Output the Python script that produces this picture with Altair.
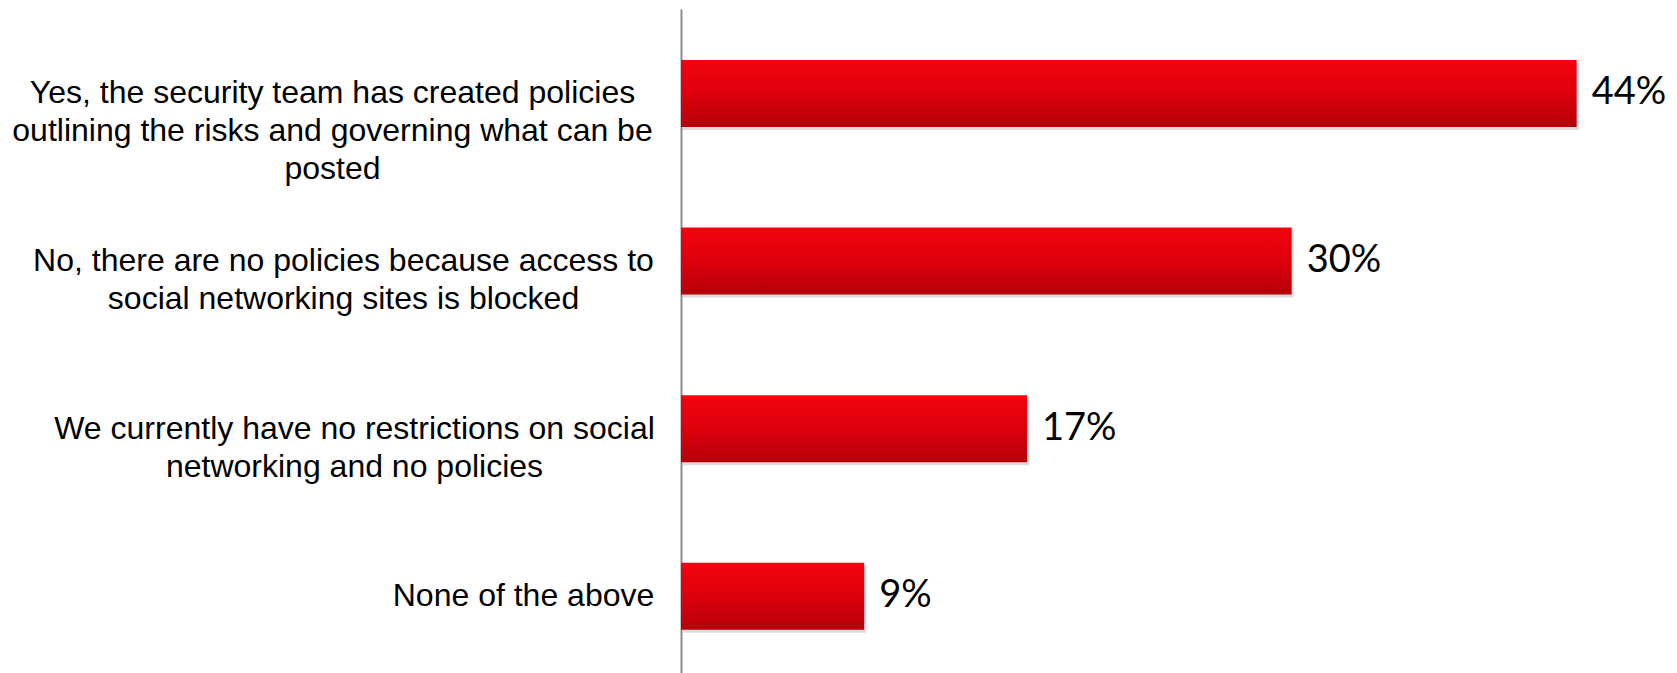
import altair as alt
import pandas as pd

categories = [
    "Yes, the security team has created policies\noutlining the risks and governing what can be\nposted",
    "No, there are no policies because access to\nsocial networking sites is blocked",
    "We currently have no restrictions on social\nnetworking and no policies",
    "None of the above",
]
values = [44, 30, 17, 9]

df = pd.DataFrame({"category": categories, "value": values})

label_pad = [349, 338, 327, 158]
pad_cond = [
    {"test": f"datum.value == {repr(c)}", "value": p}
    for c, p in zip(categories[:-1], label_pad[:-1])
]

y_enc = alt.Y(
    "category:N",
    sort=categories,
    title=None,
    scale=alt.Scale(paddingInner=0.6, paddingOuter=0.281, align=0.541),
    axis=alt.Axis(
        labelExpr="split(datum.label, '\\n')",
        labelFont="Liberation Sans",
        labelFontSize=32,
        labelLineHeight=38,
        labelColor="#000000",
        labelAlign="center",
        labelBaseline="middle",
        labelLimit=0,
        labelPadding={"condition": pad_cond, "value": label_pad[-1]},
        ticks=False,
        tickSize=0,
        domainColor="#8c8c8c",
        domainWidth=2,
        grid=False,
    ),
)

x_enc = alt.X(
    "value:Q",
    title=None,
    scale=alt.Scale(domain=[0, 45], nice=False),
    axis=None,
)

base = alt.Chart(df).encode(x=x_enc, y=y_enc)

shadow = base.mark_bar(color="#9a9a9a", opacity=0.35, xOffset=2, yOffset=3)

bars = base.mark_bar(
    color=alt.Gradient(
        gradient="linear",
        stops=[
            alt.GradientStop(color="#f2020e", offset=0),
            alt.GradientStop(color="#dc000b", offset=0.5),
            alt.GradientStop(color="#b6000a", offset=1),
        ],
        x1=0, x2=0, y1=0, y2=1,
    )
)

texts = base.mark_text(
    align="left", baseline="middle", dx=15, font="Lato", fontSize=38, color="#000000"
).encode(text=alt.Text("label:N")).transform_calculate(label="datum.value + '%'")

chart = (
    alt.layer(shadow, bars, texts)
    .properties(
        width=916,
        height=664,
        background="white",
        autosize=alt.AutoSizeParams(type="none"),
        padding={"left": 673, "top": 1, "right": 68, "bottom": 0},
    )
    .configure_view(strokeWidth=0, stroke="transparent")
)

chart.save("out.html", embed_options={"renderer": "svg", "actions": False})
